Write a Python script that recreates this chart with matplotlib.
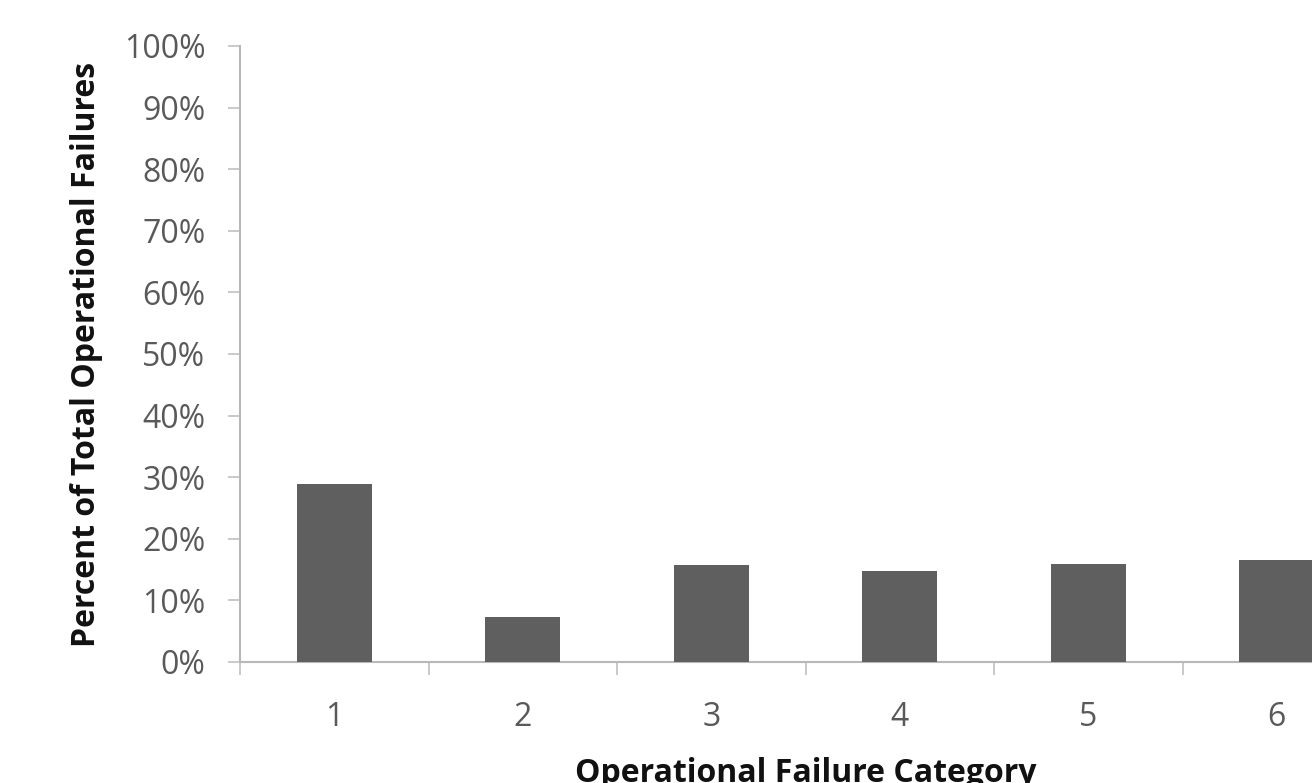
import matplotlib
matplotlib.use("Agg")
import matplotlib.pyplot as plt
from matplotlib.ticker import FixedLocator

categories = ["1", "2", "3", "4", "5", "6"]
values = [28.9, 7.3, 15.7, 14.8, 15.9, 16.6]
y_ticks = [0, 10, 20, 30, 40, 50, 60, 70, 80, 90, 100]
y_tick_labels = [f"{v}%" for v in y_ticks]

plt.rcParams['font.family'] = ['Open Sans', 'DejaVu Sans']

fig = plt.figure(figsize=(13.12, 7.83), dpi=100)
ax = fig.add_axes([240/1312, 121/783, 1131/1312, 616/783])

x = list(range(1, len(categories) + 1))
ax.bar(x, values, width=0.4, color="#5f5f5f", zorder=3)

ax.set_xlim(0.5, 6.5)
ax.set_ylim(0, 100)

ax.set_yticks(y_ticks)
ax.set_yticklabels(y_tick_labels, fontsize=23, color="#595959")
ax.tick_params(axis="y", length=9, width=1.2, color="#c0c0c0", pad=16)

ax.set_xticks(x)
ax.set_xticklabels(categories, fontsize=23, color="#595959")
ax.tick_params(axis="x", which="major", length=0, pad=28)
ax.xaxis.set_minor_locator(FixedLocator([i + 0.5 for i in range(0, 7)]))
ax.tick_params(axis="x", which="minor", length=9, width=1.2, color="#c0c0c0")

for s in ["top", "right"]:
    ax.spines[s].set_visible(False)
for s in ["left", "bottom"]:
    ax.spines[s].set_color("#b8b8b8")
    ax.spines[s].set_linewidth(1.5)

ax.set_ylabel("Percent of Total Operational Failures", fontsize=23, fontweight="bold", color="#111111")
ax.yaxis.set_label_coords(-0.121, 0.5)
ax.set_xlabel("Operational Failure Category", fontsize=23, fontweight="bold", color="#111111")
ax.xaxis.set_label_coords(0.5, -0.155)

fig.savefig("out.png", dpi=100)
